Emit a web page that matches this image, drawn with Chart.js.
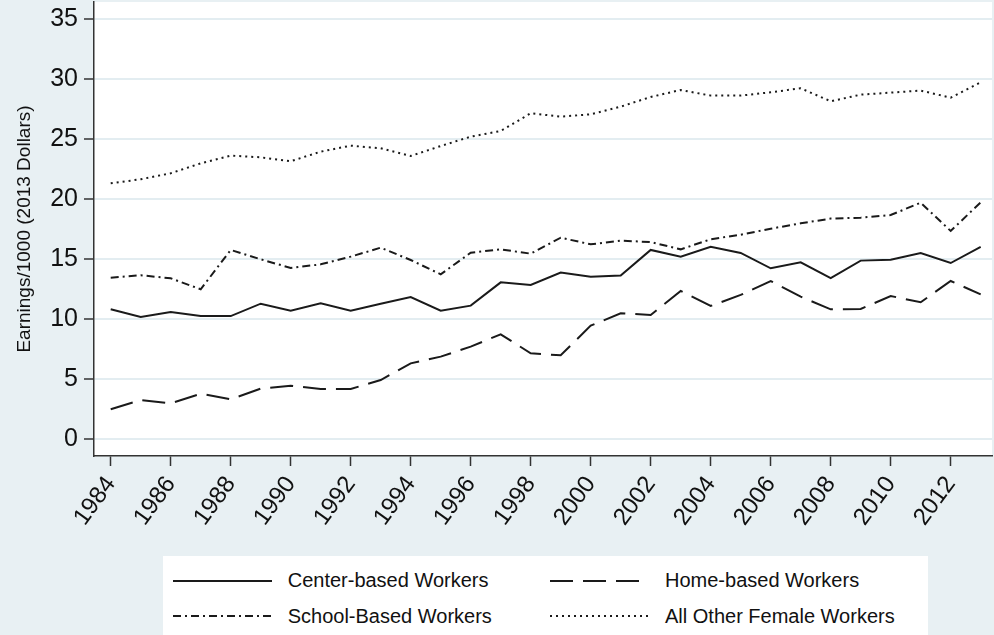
<!DOCTYPE html>
<html><head><meta charset="utf-8">
<script src="https://cdn.jsdelivr.net/npm/chart.js@4/dist/chart.umd.min.js"></script>
<style>
html,body{margin:0;padding:0;background:#e8f0f3;}
#wrap{position:relative;width:994px;height:635px;overflow:hidden;}
canvas{position:absolute;left:0;top:0;}
#legend{position:absolute;left:163px;top:556px;width:765px;height:79px;background:#fff;font-family:"Liberation Sans",Arial,sans-serif;font-size:20px;color:#111;}
.item{position:absolute;height:24px;display:flex;align-items:center;white-space:nowrap;}
.item svg{margin-right:16px;display:block}
</style></head>
<body>
<div id="wrap">
<canvas id="c" width="994" height="635"></canvas>
<div id="legend"></div>
</div>
<script>
const years = [1984,1985,1986,1987,1988,1989,1990,1991,1992,1993,1994,1995,1996,1997,1998,1999,2000,2001,2002,2003,2004,2005,2006,2007,2008,2009,2010,2011,2012,2013];
const centerBased = [10.83,10.2,10.6,10.27,10.27,11.3,10.72,11.33,10.72,11.3,11.85,10.72,11.14,13.08,12.86,13.9,13.55,13.64,15.78,15.22,16.05,15.53,14.25,14.75,13.44,14.89,14.97,15.53,14.69,16.03];
const homeBased = [2.5,3.27,3.0,3.8,3.33,4.22,4.47,4.19,4.19,4.94,6.33,6.89,7.72,8.75,7.17,7.0,9.47,10.5,10.36,12.36,11.11,12.03,13.19,11.89,10.83,10.86,11.94,11.42,13.19,12.08];
const schoolBased = [13.47,13.67,13.42,12.5,15.78,15.0,14.28,14.58,15.22,15.97,14.94,13.75,15.55,15.83,15.47,16.8,16.25,16.55,16.44,15.83,16.67,17.05,17.55,18.0,18.39,18.47,18.69,19.72,17.36,19.75];
const allOther = [21.33,21.67,22.17,23.0,23.64,23.5,23.17,23.97,24.47,24.25,23.61,24.44,25.22,25.69,27.17,26.89,27.08,27.72,28.53,29.11,28.64,28.64,28.92,29.25,28.17,28.72,28.89,29.06,28.47,29.75];
const seriesNames = ["Center-based Workers","Home-based Workers","School-Based Workers","All Other Female Workers"];
const xTickValues = [1984,1986,1988,1990,1992,1994,1996,1998,2000,2002,2004,2006,2008,2010,2012];
const xTickLabels = ["1984","1986","1988","1990","1992","1994","1996","1998","2000","2002","2004","2006","2008","2010","2012"];
const yTickValues = [0,5,10,15,20,25,30,35];
const yTickLabels = ["0","5","10","15","20","25","30","35"];
const yTitle = "Earnings/1000 (2013 Dollars)";

const BG = '#e8f0f3';
const INK = '#1a1a1a';
const dashes = [[], [23, 10], [8, 4, 2, 4], [2, 4]];
const seriesValues = [centerBased, homeBased, schoolBased, allOther];

const datasets = seriesValues.map((vals, k) => ({
  label: seriesNames[k],
  data: years.map((yr, i) => ({x: yr, y: vals[i]})),
  borderColor: INK,
  borderWidth: 2,
  borderDash: dashes[k],
  borderCapStyle: 'butt',
  pointRadius: 0,
  tension: 0,
  fill: false
}));

const bgPlugin = {
  id: 'bg',
  beforeDraw(chart) {
    const {ctx, chartArea: a} = chart;
    ctx.save();
    ctx.fillStyle = BG;
    ctx.fillRect(0, 0, chart.width, chart.height);
    ctx.fillStyle = '#ffffff';
    ctx.fillRect(a.left, a.top, a.right - a.left, a.bottom - a.top);
    ctx.restore();
  }
};

Chart.defaults.font.family = '"Liberation Sans", Arial, sans-serif';

new Chart(document.getElementById('c'), {
  type: 'line',
  data: {datasets},
  options: {
    responsive: false,
    animation: false,
    devicePixelRatio: 1,
    layout: {padding: {left: 0, right: 2, top: 2, bottom: 0}},
    plugins: {legend: {display: false}, tooltip: {enabled: false}},
    scales: {
      x: {
        type: 'linear',
        min: 1983.443, max: 2013.377,
        afterBuildTicks: s => { s.ticks = xTickValues.map(v => ({value: v})); },
        afterFit: s => { s.height = 179; s.paddingLeft = 0; s.paddingRight = 0; },
        grid: {drawOnChartArea: false, drawTicks: true, tickLength: 10, tickColor: '#333', tickWidth: 1.5},
        border: {color: '#333', width: 1.5},
        ticks: {autoSkip: false, minRotation: 54, maxRotation: 54, padding: 5, color: '#111',
                font: {size: 24}, callback: (v, i) => xTickLabels[i]}
      },
      y: {
        min: -1.392, max: 36.442,
        afterBuildTicks: s => { s.ticks = yTickValues.map(v => ({value: v})); },
        afterFit: s => { s.width = 94; s.paddingTop = 0; s.paddingBottom = 0; },
        grid: {color: '#e3edf1', lineWidth: 2, tickLength: 10, tickColor: '#333', tickWidth: 1.5},
        border: {color: '#333', width: 1.5},
        ticks: {padding: 6, color: '#111', font: {size: 25}, callback: (v, i) => yTickLabels[i]},
        title: {display: true, text: yTitle, color: '#111', font: {size: 19}, padding: {top: 13, bottom: 0}}
      }
    }
  },
  plugins: [bgPlugin]
});

// legend (HTML)
const legendPos = [[9.7, 24.7], [387, 24.7], [9.7, 60], [387, 60]];
const lg = document.getElementById('legend');
seriesNames.forEach((name, k) => {
  const d = document.createElement('div');
  d.className = 'item';
  d.style.left = legendPos[k][0] + 'px';
  d.style.top = (legendPos[k][1] - 12) + 'px';
  const dash = dashes[k].length ? dashes[k].join(' ') : 'none';
  d.innerHTML = '<svg width="99" height="4"><line x1="0" y1="2" x2="99" y2="2" stroke="' + INK + '" stroke-width="2" stroke-dasharray="' + dash + '"/></svg>';
  const t = document.createElement('span');
  t.textContent = name;
  d.appendChild(t);
  lg.appendChild(d);
});
</script>
</body></html>
